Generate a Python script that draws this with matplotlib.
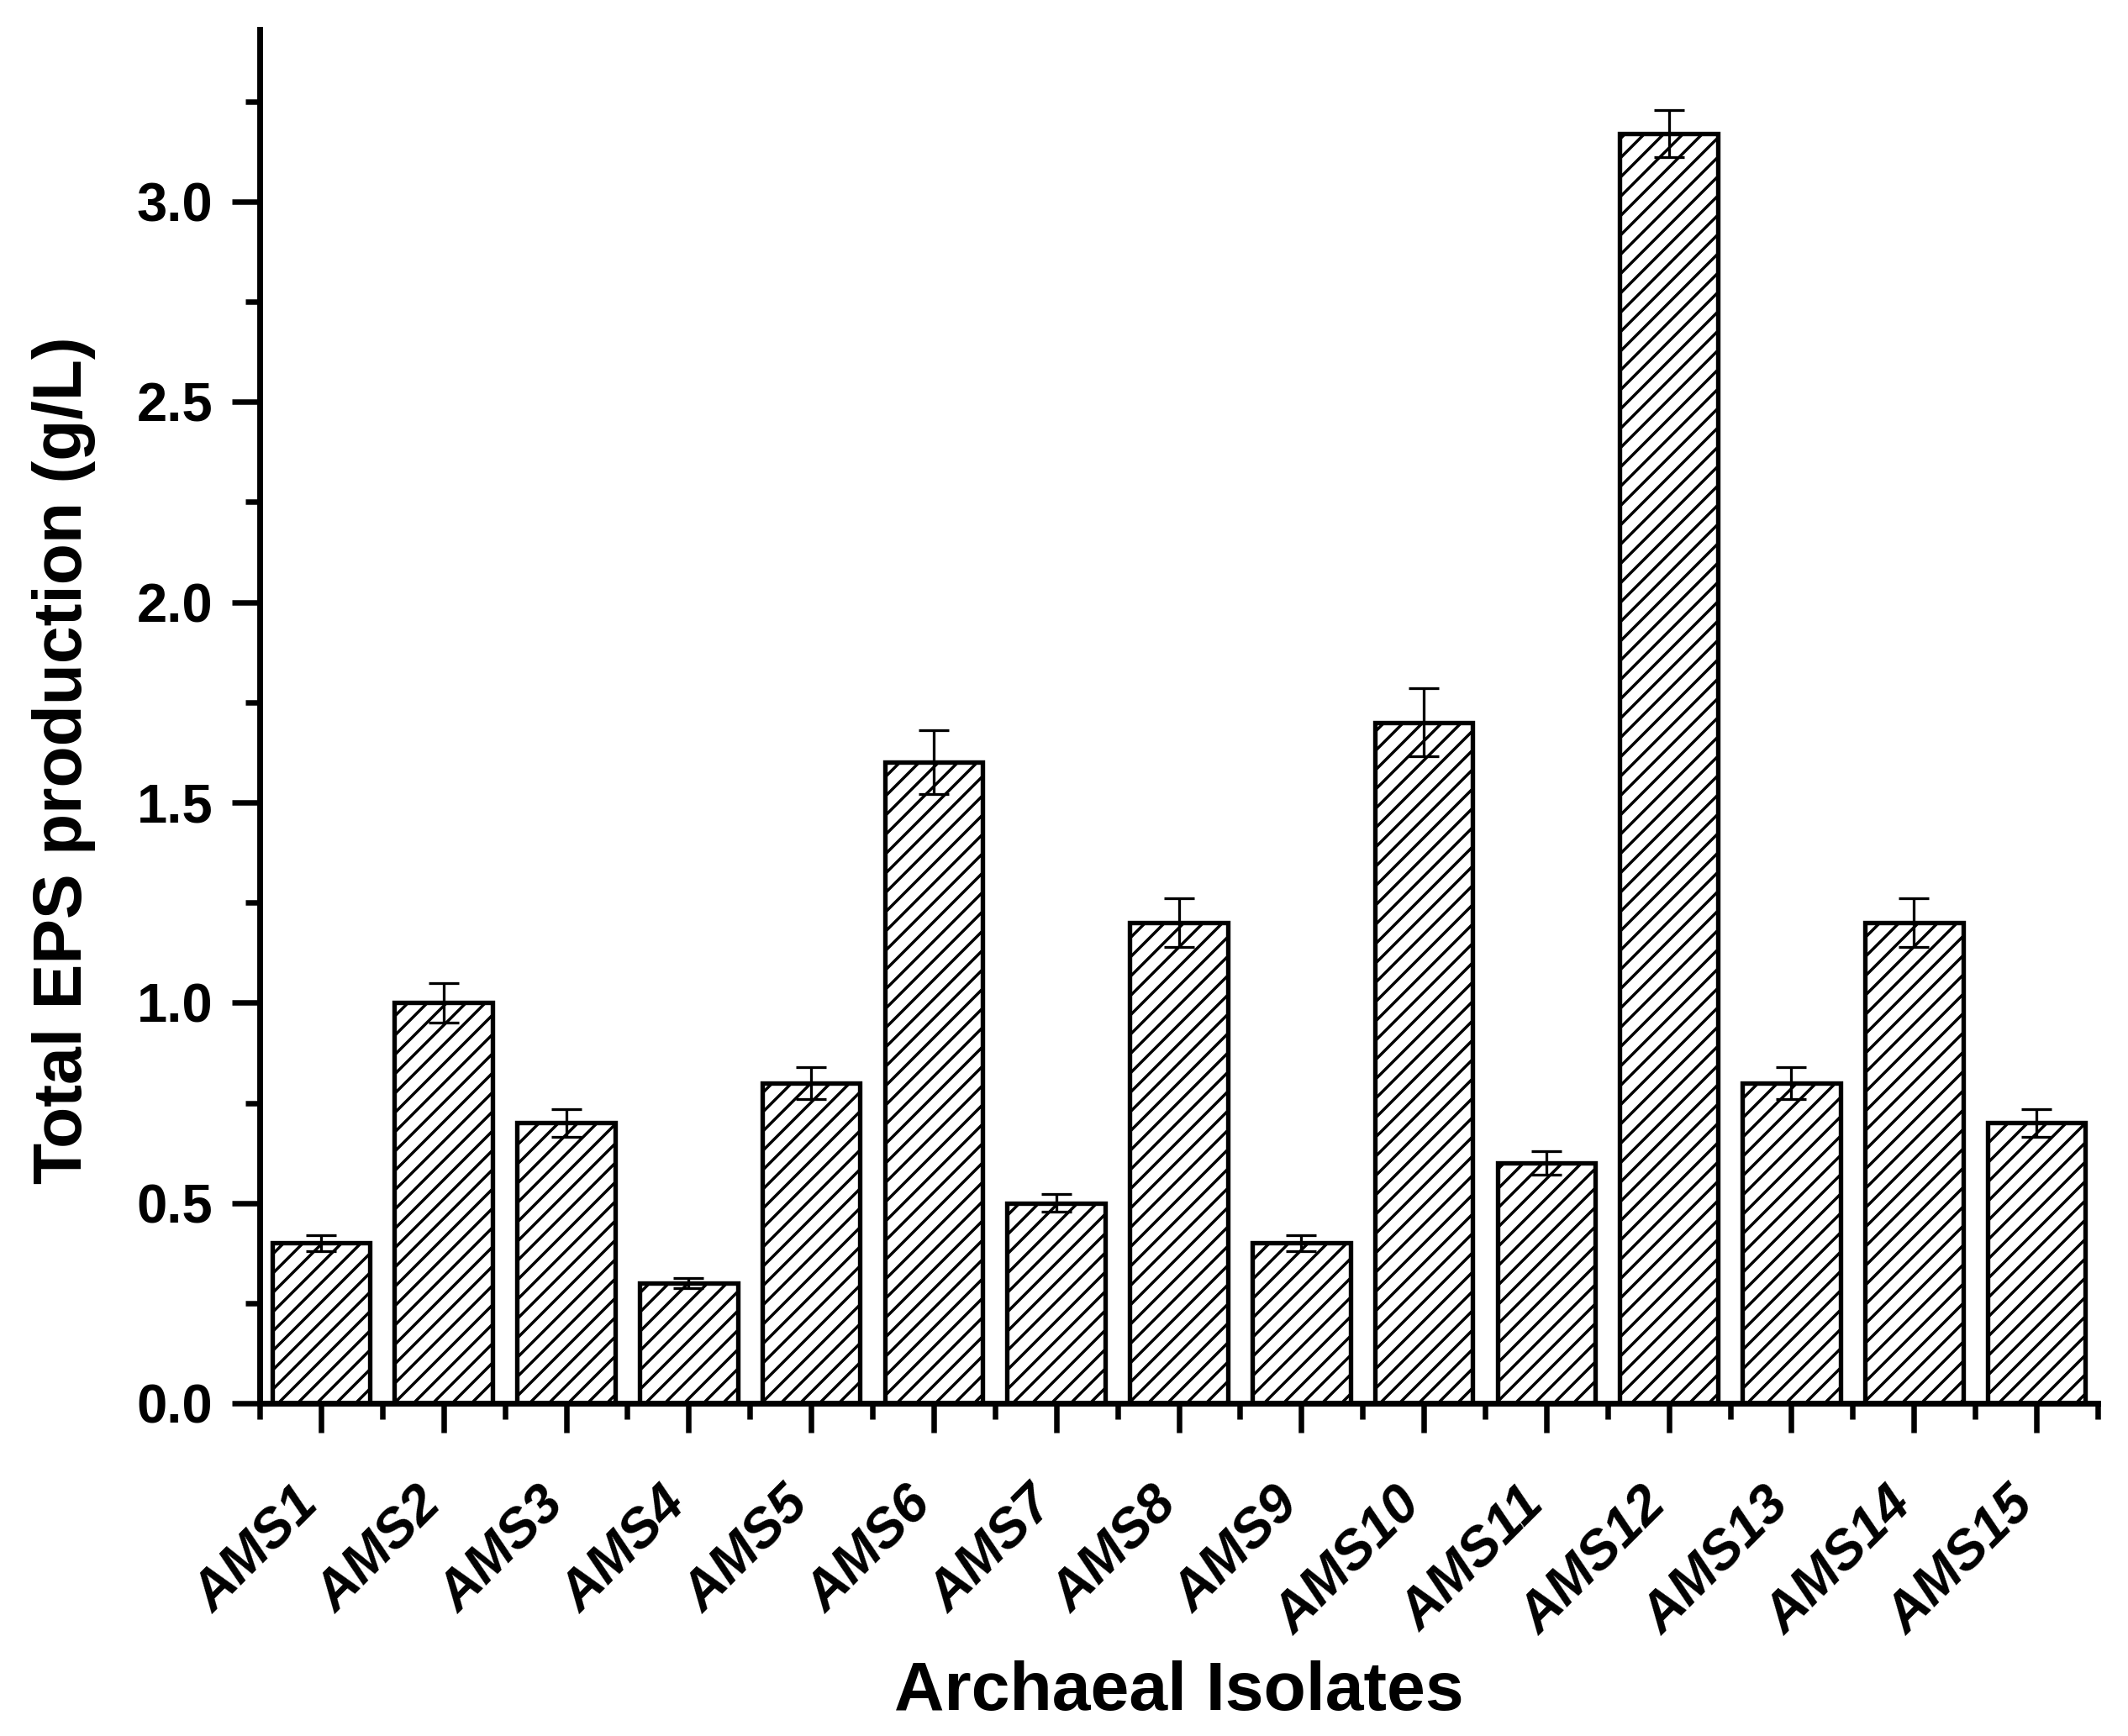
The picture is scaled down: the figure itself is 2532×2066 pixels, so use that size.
import matplotlib
matplotlib.use('Agg')
import matplotlib.pyplot as plt
import numpy as np

plt.rcParams['font.family'] = ['Liberation Sans', 'DejaVu Sans']
plt.rcParams['font.weight'] = 'bold'
plt.rcParams['hatch.linewidth'] = 1.8

isolates = ['AMS1', 'AMS2', 'AMS3', 'AMS4', 'AMS5', 'AMS6', 'AMS7', 'AMS8',
            'AMS9', 'AMS10', 'AMS11', 'AMS12', 'AMS13', 'AMS14', 'AMS15']
eps = [0.40, 1.00, 0.70, 0.30, 0.80, 1.60, 0.50, 1.20,
       0.40, 1.70, 0.60, 3.17, 0.80, 1.20, 0.70]
err = [0.02, 0.05, 0.035, 0.012, 0.04, 0.08, 0.022, 0.06,
       0.02, 0.085, 0.03, 0.058, 0.04, 0.06, 0.035]

dpi = 138
fig = plt.figure(figsize=(2532 / dpi, 2066 / dpi), dpi=dpi)
ax = fig.add_axes([0.12204, 0.19167, 0.86374, 0.79138])

x = np.arange(1, len(isolates) + 1)
ax.bar(x, eps, width=0.8, color='white', edgecolor='black',
       linewidth=2.8, hatch='//', zorder=2)
ax.errorbar(x, eps, yerr=err, fmt='none', ecolor='black', elinewidth=1.7,
            capsize=9.5, capthick=1.7, zorder=3)

ax.set_xlim(0.5, 15.5)
ax.set_ylim(0, 3.43)

for side in ['top', 'right']:
    ax.spines[side].set_visible(False)
for side in ['left', 'bottom']:
    ax.spines[side].set_linewidth(3.6)

ax.set_yticks([0.0, 0.5, 1.0, 1.5, 2.0, 2.5, 3.0])
ax.set_yticks(np.arange(0.25, 3.4, 0.5), minor=True)
ax.set_yticklabels(['0.0', '0.5', '1.0', '1.5', '2.0', '2.5', '3.0'])
ax.set_xticks(x)
ax.set_xticks(np.arange(0.5, 16, 1.0), minor=True)
ax.set_xticklabels(isolates, fontsize=34, fontweight='bold', fontstyle='italic')

ax.tick_params(axis='y', which='major', direction='out', length=17, width=3.4,
               labelsize=34, pad=12)
ax.tick_params(axis='y', which='minor', direction='out', length=9, width=3.4)
ax.tick_params(axis='x', which='major', direction='out', length=18.5, width=3.4,
               pad=46)
ax.tick_params(axis='x', which='minor', direction='out', length=10, width=3.4)

plt.setp(ax.get_xticklabels(), rotation=45, ha='right', va='baseline',
         rotation_mode='anchor')

ax.set_xlabel('Archaeal Isolates', fontsize=43, fontweight='bold')
ax.xaxis.set_label_coords(0.5, -0.2232)
ax.xaxis.label.set_va('baseline')

ax.set_ylabel('Total EPS production (g/L)', fontsize=42, fontweight='bold')
ax.yaxis.set_label_coords(-0.0969, 0.468)
ax.yaxis.label.set_va('baseline')

fig.savefig('out.png', dpi=dpi, facecolor='white')
